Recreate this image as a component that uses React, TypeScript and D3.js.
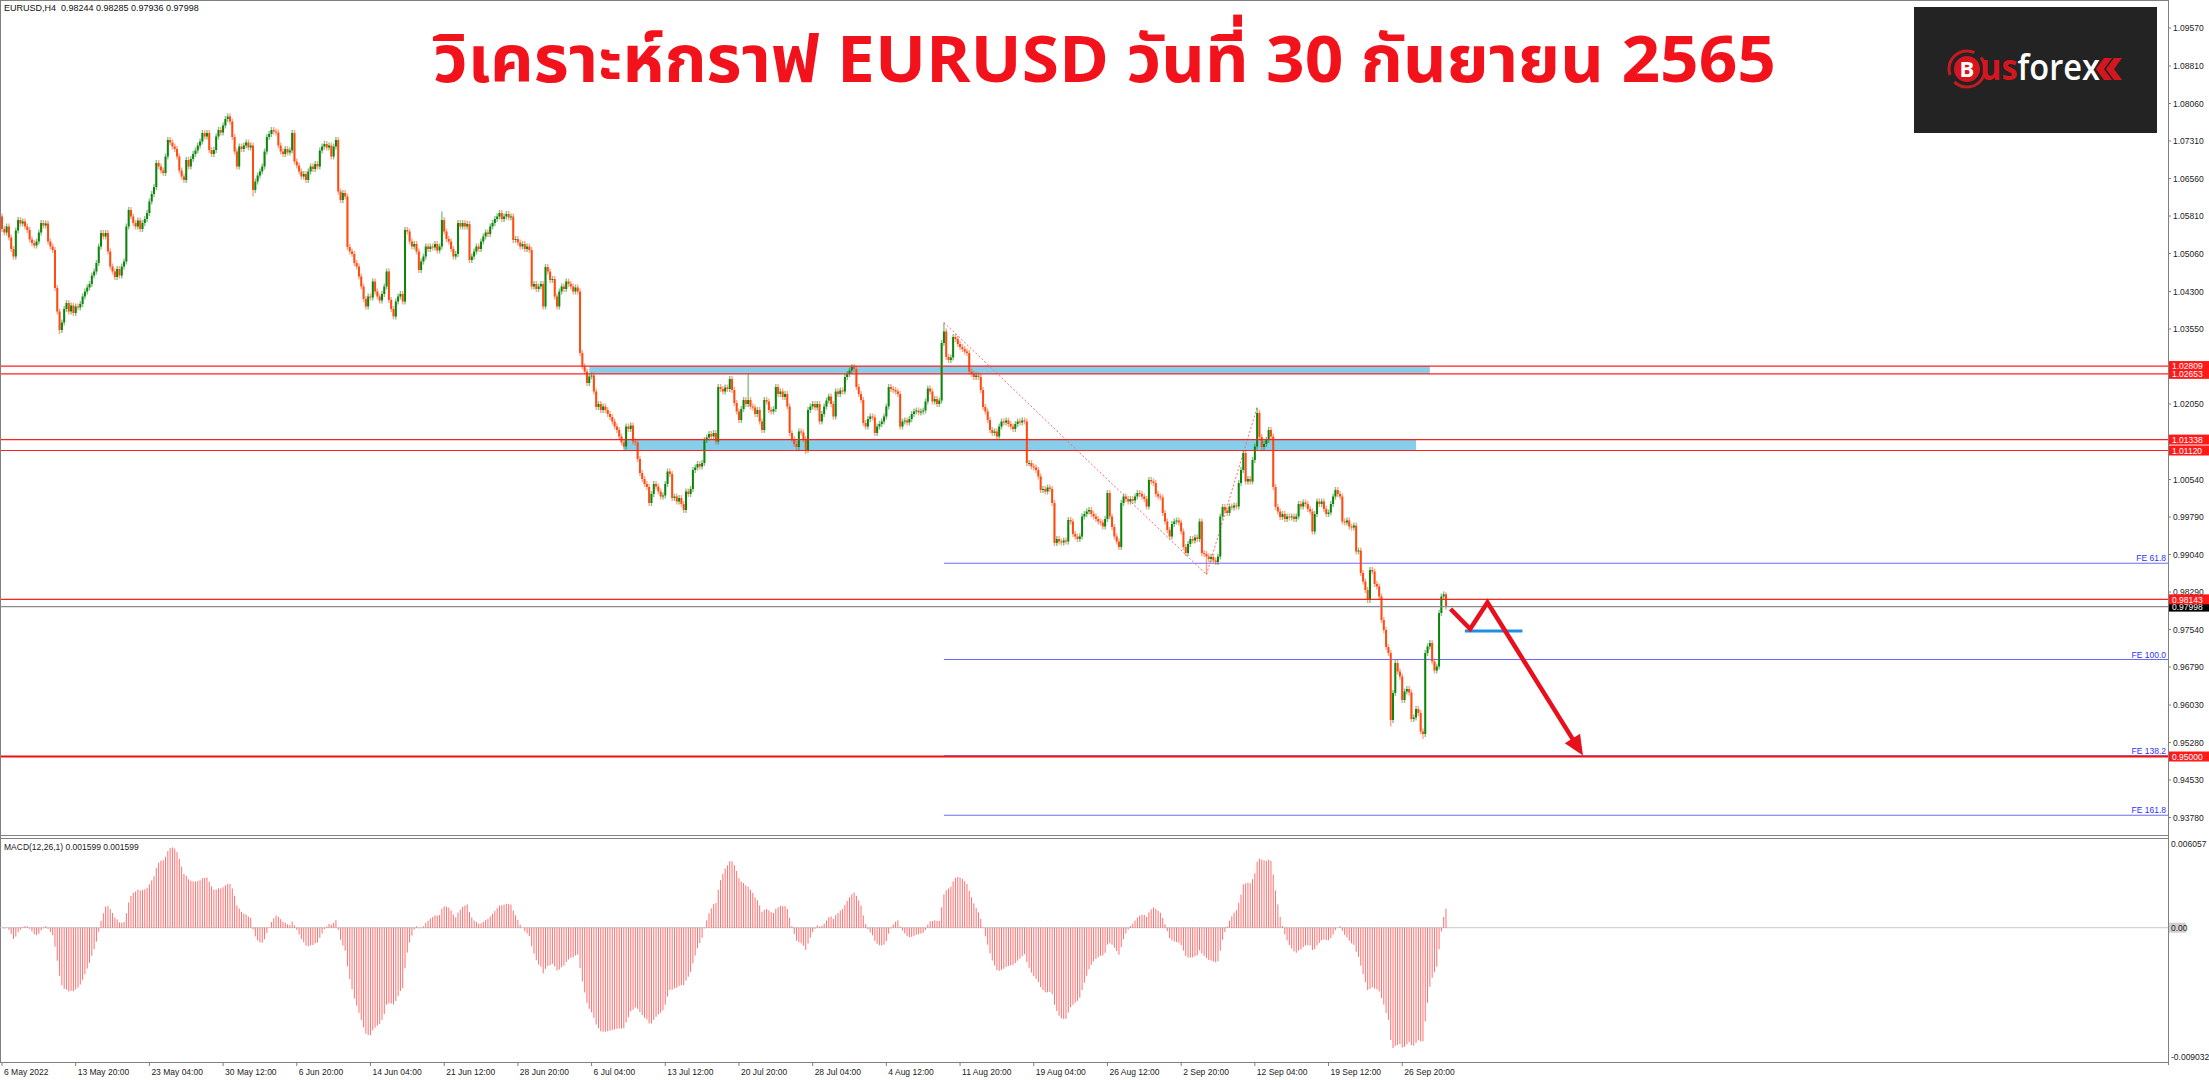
import React from "react";
import * as d3 from "d3";

// ---------- DATA ----------
// H4 closes, in 1/10000 units (10570 = 1.0570), bar 0 = 6 May 2022
const closesPips = [
  10555, 10548, 10560, 10538, 10515, 10500, 10552, 10573, 10566, 10570,
  10560, 10553, 10534, 10527, 10522, 10530, 10548, 10567, 10562, 10566,
  10530, 10520, 10513, 10437, 10390, 10353, 10368, 10395, 10407, 10390,
  10402, 10387, 10400, 10398, 10405, 10420, 10430, 10438, 10445, 10462,
  10470, 10487, 10520, 10547, 10540, 10547, 10510, 10480, 10470, 10459,
  10475, 10462, 10480, 10490, 10560, 10593, 10580, 10567, 10560, 10572,
  10555, 10567, 10575, 10587, 10610, 10625, 10639, 10687, 10680, 10672,
  10667, 10700, 10733, 10728, 10720, 10715, 10700, 10672, 10660, 10653,
  10693, 10680, 10695, 10705, 10712, 10722, 10730, 10747, 10740, 10747,
  10713, 10705, 10713, 10740, 10753, 10748, 10762, 10775, 10780, 10770,
  10739, 10710, 10680, 10720, 10715, 10722, 10728, 10718, 10722, 10633,
  10650, 10662, 10670, 10680, 10710, 10739, 10745, 10753, 10750, 10748,
  10722, 10710, 10705, 10715, 10708, 10712, 10747, 10690, 10682, 10670,
  10660, 10665, 10653, 10670, 10680, 10675, 10685, 10680, 10712, 10720,
  10725, 10718, 10722, 10700, 10720, 10733, 10630, 10613, 10627, 10620,
  10519, 10510, 10505, 10487, 10480, 10460, 10440, 10415, 10400, 10420,
  10418, 10450, 10430, 10420, 10412, 10425, 10440, 10470, 10413, 10395,
  10380, 10410, 10420, 10425, 10410, 10553, 10550, 10530, 10520, 10525,
  10510, 10473, 10490, 10500, 10520, 10515, 10520, 10518, 10525, 10512,
  10520, 10573, 10550, 10535, 10530, 10515, 10500, 10505, 10567, 10560,
  10567, 10560, 10565, 10493, 10500, 10510, 10520, 10515, 10530, 10540,
  10548, 10545, 10560, 10567, 10575, 10580, 10587, 10575, 10580, 10585,
  10578, 10580, 10533, 10535, 10528, 10520, 10525, 10515, 10520, 10513,
  10440, 10445, 10435, 10440, 10445, 10400, 10479, 10470, 10453, 10455,
  10420, 10400, 10430, 10440, 10435, 10450, 10445, 10440, 10430, 10438,
  10430, 10307, 10280, 10270, 10247, 10260, 10262, 10230, 10199, 10205,
  10193, 10200, 10193, 10185, 10179, 10170, 10160, 10153, 10140, 10128,
  10120, 10160, 10155, 10162, 10130, 10128, 10095, 10067, 10055, 10045,
  10039, 10007, 10025, 10045, 10040, 10030, 10020, 10022, 10045, 10070,
  10065, 10017, 10020, 10010, 10017, 10005, 9993, 10030, 10025, 10035,
  10073, 10078, 10085, 10080, 10087, 10133, 10138, 10145, 10140, 10147,
  10130, 10239, 10235, 10230, 10238, 10235, 10255, 10233, 10207, 10190,
  10173, 10195, 10213, 10205, 10213, 10200, 10198, 10185, 10193, 10170,
  10153, 10213, 10210, 10193, 10190, 10195, 10239, 10225, 10230, 10219,
  10225, 10200, 10147, 10135, 10125, 10119, 10150, 10148, 10135, 10113,
  10193, 10200, 10205, 10198, 10205, 10170, 10185, 10200, 10212, 10220,
  10205, 10180, 10230, 10225, 10232, 10230, 10259, 10265, 10272, 10279,
  10275, 10239, 10225, 10213, 10167, 10160, 10175, 10180, 10178, 10147,
  10160, 10165, 10170, 10180, 10200, 10239, 10235, 10233, 10230, 10225,
  10160, 10170, 10172, 10168, 10175, 10185, 10190, 10192, 10188, 10190,
  10192, 10210, 10236, 10230, 10210, 10215, 10205, 10212, 10327, 10350,
  10299, 10293, 10298, 10339, 10335, 10325, 10319, 10315, 10310, 10307,
  10270, 10265, 10259, 10262, 10259, 10233, 10199, 10190, 10173, 10153,
  10147, 10150, 10140, 10160, 10170, 10168, 10172, 10165, 10160, 10155,
  10165, 10170, 10168, 10172, 10170, 10087, 10087, 10080, 10078, 10073,
  10060, 10033, 10035, 10030, 10038, 10035, 10007, 9927, 9935, 9930,
  9928, 9932, 9930, 9973, 9970, 9945, 9940, 9935, 9940, 9980,
  9985, 9990, 9993, 9985, 9980, 9975, 9970, 9968, 9960, 9975,
  10027, 9980, 9959, 9940, 9930, 9919, 10007, 10020, 10015, 10010,
  10015, 10012, 10020, 10027, 10025, 10020, 10015, 10000, 10053, 10050,
  10047, 10025, 10020, 10018, 9987, 9970, 9953, 9940, 9965, 9970,
  9972, 9968, 9950, 9919, 9907, 9925, 9935, 9932, 9938, 9935,
  9970, 9907, 9905, 9900, 9895, 9899, 9892, 9889, 9900, 9980,
  9999, 9992, 9987, 10000, 9998, 10002, 10000, 10047, 10073, 10107,
  10050, 10055, 10050, 10093, 10120, 10187, 10139, 10119, 10125, 10133,
  10153, 10140, 10039, 9999, 9990, 9979, 9985, 9975, 9980, 9978,
  9980, 9975, 9980, 10005, 10000, 10008, 10005, 9995, 9990, 9950,
  9985, 10010, 10005, 10010, 9995, 9985, 9988, 10005, 10020, 10033,
  10025, 10020, 9970, 9968, 9972, 9960, 9958, 9962, 9910, 9912,
  9867, 9850, 9833, 9813, 9873, 9870, 9845, 9840, 9820, 9773,
  9753, 9719, 9707, 9573, 9627, 9687, 9670, 9660, 9613, 9630,
  9635, 9628, 9575, 9578, 9595, 9587, 9550, 9545, 9707, 9720,
  9727, 9690, 9672, 9680, 9787, 9820, 9824.4, 9799.8,
];
const firstOpen = 10580;
// notable wick extremes: [bar, price]
const highSpikes = [[98, 1.0786], [191, 1.059], [324, 1.0265], [409, 1.0368], [545, 1.0198], [627, 0.98285]];
const lowSpikes = [[25, 1.0345], [109, 1.062], [349, 1.0105], [523, 0.9864], [603, 0.956], [617, 0.9535], [627, 0.97936]];

const dateLabels = [
  "6 May 2022", "13 May 20:00", "23 May 04:00", "30 May 12:00", "6 Jun 20:00",
  "14 Jun 04:00", "21 Jun 12:00", "28 Jun 20:00", "6 Jul 04:00", "13 Jul 12:00",
  "20 Jul 20:00", "28 Jul 04:00", "4 Aug 12:00", "11 Aug 20:00", "19 Aug 04:00",
  "26 Aug 12:00", "2 Sep 20:00", "12 Sep 04:00", "19 Sep 12:00", "26 Sep 20:00",
];
const barsPerDateLabel = 32;

const priceTicks = [
  1.0957, 1.0881, 1.0806, 1.0731, 1.0656, 1.0581, 1.0506, 1.043, 1.0355,
  1.0205, 1.0054, 0.9979, 0.9904, 0.9829, 0.9754, 0.9679, 0.9603, 0.9528, 0.9453, 0.9378,
];
const redLevels = [1.02809, 1.02653, 1.01338, 1.0112, 0.98143];
const targetLevel = 0.95;
const bidPrice = 0.97998;
// zones: [upper price, lower price, first bar, last bar]
const zones = [
  [1.02809, 1.02653, 255, 620],
  [1.01338, 1.0112, 270, 614],
];
// Fibonacci expansion anchor points [bar, price]
const fePoints = [[409, 1.0368], [523, 0.9864], [545, 1.0198]];
const feRatios = [61.8, 100.0, 138.2, 161.8];
// drawn forecast path [bar, price]
const arrowPath = [[629, 0.9795], [637.5, 0.9755], [645, 0.9808], [686.5, 0.9502]];
const bluePlan = [[635.2, 0.9751], [660.2, 0.9751]];
const macdTicks = [0.006057, 0, -0.009032];
const headerText = "EURUSD,H4  0.98244 0.98285 0.97936 0.97998";
const macdText = "MACD(12,26,1) 0.001599 0.001599";
const titleText = "วิเคราะห์กราฟ EURUSD วันที่ 30 กันยายน 2565";

// ---------- LAYOUT ----------
const W = 2209;
const H = 1080;
const plotRight = 2168;
const mainBottom = 835;
const macdTop = 838;
const macdBottom = 1062;
const FONT = "'Liberation Sans', Arial, sans-serif";
const AX = 8.5;

const closes = closesPips.map((v) => v / 10000);
const bars = closes.map((c, i) => {
  const o = i === 0 ? firstOpen / 10000 : closes[i - 1];
  let hi = Math.max(o, c) + 0.0006;
  let lo = Math.min(o, c) - 0.0006;
  const hs = highSpikes.find((s) => s[0] === i);
  const ls = lowSpikes.find((s) => s[0] === i);
  if (hs) hi = hs[1];
  if (ls) lo = ls[1];
  return { i, o, c, hi, lo };
});

function ema(arr: number[], n: number) {
  const k = 2 / (n + 1);
  let e = arr[0];
  return arr.map((v, i) => (i === 0 ? e : (e = v * k + e * (1 - k))));
}
const e12 = ema(closes, 12);
const e26 = ema(closes, 26);
const macd = closes.map((_, i) => e12[i] - e26[i]);

export default function App() {
  const x = d3.scaleLinear().domain([0, closes.length - 1]).range([2, 2 + (closes.length - 1) * 2.303]);
  const y = d3.scaleLinear().domain([1.0957, 0.9378]).range([28, 817.5]);
  const ym = d3.scaleLinear().domain([macdTicks[0], macdTicks[2]]).range([macdTop + 1, macdBottom - 2]);

  const [A, B, C] = fePoints;
  const feLevels = feRatios.map((r) => ({ r, p: C[1] - (r / 100) * (A[1] - B[1]) }));
  const fx0 = x(A[0]);

  const lineGen = d3.line<number[]>().x((d) => x(d[0])).y((d) => y(d[1]));
  const ap = arrowPath;
  const last = ap[ap.length - 1];
  const prev = ap[ap.length - 2];
  const ang = Math.atan2(y(last[1]) - y(prev[1]), x(last[0]) - x(prev[0]));
  const tipX = x(last[0]);
  const tipY = y(last[1]);
  const hl = 20, hw = 9;
  const head = [
    [tipX, tipY],
    [tipX - hl * Math.cos(ang) + hw * Math.sin(ang), tipY - hl * Math.sin(ang) - hw * Math.cos(ang)],
    [tipX - hl * Math.cos(ang) - hw * Math.sin(ang), tipY - hl * Math.sin(ang) + hw * Math.cos(ang)],
  ];
  const shaftEnd = [tipX - 12 * Math.cos(ang), tipY - 12 * Math.sin(ang)];

  const axisLabel = (p: number, txt: string, bg: string, fg: string, key: string) => (
    <g key={key}>
      <rect x={plotRight + 1} y={y(p) - 5} width={40} height={10} fill={bg} />
      <text x={plotRight + 4} y={y(p) + 3.2} fontSize={AX} fill={fg} fontFamily={FONT}>{txt}</text>
    </g>
  );

  return (
    <svg width={W} height={H} style={{ position: "absolute", left: 0, top: 0, background: "#fff" }}>
      <rect x={0} y={0} width={W} height={H} fill="#fff" />
      {/* zones */}
      {zones.map((z, k) => (
        <rect key={"z" + k} x={x(z[2])} y={y(z[0])} width={x(z[3]) - x(z[2])} height={y(z[1]) - y(z[0])} fill="#87ceeb" />
      ))}
      {/* FE lines */}
      {feLevels.map((l) => (
        <g key={"fe" + l.r}>
          <line x1={fx0} x2={plotRight} y1={y(l.p)} y2={y(l.p)} stroke="#6a6aff" strokeWidth={1} />
          <text x={plotRight - 2} y={y(l.p) - 2} textAnchor="end" fontSize={8.5} fill="#3030ff" fontFamily={FONT}>
            {"FE " + l.r.toFixed(1)}
          </text>
        </g>
      ))}
      {/* FE dotted trend */}
      <path d={lineGen(fePoints) || ""} fill="none" stroke="#ff6a6a" strokeWidth={1} strokeDasharray="2,2" />
      {/* candles */}
      {bars.map((b) => {
        const bull = b.c >= b.o;
        const col = bull ? "#0b860b" : "#ff4a10";
        const cx = x(b.i);
        const top = y(Math.max(b.o, b.c));
        const bh = Math.max(1, y(Math.min(b.o, b.c)) - top);
        return (
          <g key={"c" + b.i}>
            <line x1={cx} x2={cx} y1={y(b.hi)} y2={y(b.lo)} stroke={col} strokeOpacity={0.5} strokeWidth={1.4} />
            <rect x={cx - 1} y={top} width={2} height={bh} fill={col} />
          </g>
        );
      })}
      {/* horizontal levels */}
      <line x1={0} x2={plotRight} y1={y(bidPrice)} y2={y(bidPrice)} stroke="#8c8c8c" strokeWidth={1.3} />
      {redLevels.map((p, k) => (
        <line key={"r" + k} x1={0} x2={plotRight} y1={y(p)} y2={y(p)} stroke="#ff2020" strokeWidth={1.2} />
      ))}
      <line x1={0} x2={plotRight} y1={y(targetLevel)} y2={y(targetLevel)} stroke="#ee1111" strokeWidth={2} />
      {/* forecast drawing */}
      <line x1={x(bluePlan[0][0])} x2={x(bluePlan[1][0])} y1={y(bluePlan[0][1])} y2={y(bluePlan[1][1])} stroke="#1e8fe6" strokeWidth={3} />
      <path d={(lineGen(ap.slice(0, -1)) || "") + `L${shaftEnd[0]},${shaftEnd[1]}`} fill="none" stroke="#e8101c" strokeWidth={4.5} strokeLinejoin="miter" />
      <polygon points={head.map((p) => p.join(",")).join(" ")} fill="#e8101c" />

      {/* frame */}
      <line x1={0.5} x2={0.5} y1={0} y2={macdBottom} stroke="#808080" />
      <line x1={0} x2={plotRight} y1={0.5} y2={0.5} stroke="#808080" />
      <line x1={plotRight + 0.5} x2={plotRight + 0.5} y1={0} y2={macdBottom + 3} stroke="#808080" />
      <line x1={0} x2={plotRight} y1={mainBottom + 0.5} y2={mainBottom + 0.5} stroke="#808080" />
      <line x1={0} x2={plotRight} y1={macdTop + 0.5} y2={macdTop + 0.5} stroke="#808080" />
      <line x1={0} x2={plotRight} y1={macdBottom + 0.5} y2={macdBottom + 0.5} stroke="#808080" />

      {/* price axis */}
      {priceTicks.map((p) => (
        <g key={"t" + p}>
          <line x1={plotRight} x2={plotRight + 3} y1={y(p)} y2={y(p)} stroke="#808080" />
          <text x={plotRight + 5} y={y(p) + 3.2} fontSize={AX} fill="#222" fontFamily={FONT}>{p.toFixed(5)}</text>
        </g>
      ))}
      {axisLabel(bidPrice, bidPrice.toFixed(5), "#000", "#fff", "bid")}
      {redLevels.map((p, k) => axisLabel(p, p.toFixed(5), "#ff1a1a", "#fff", "rl" + k))}
      {axisLabel(targetLevel, targetLevel.toFixed(5), "#ff1a1a", "#fff", "tl")}

      {/* MACD */}
      <line x1={0} x2={plotRight} y1={ym(0)} y2={ym(0)} stroke="#c8c8c8" />
      {macd.map((v, i) => (
        <line key={"m" + i} x1={x(i)} x2={x(i)} y1={ym(0)} y2={ym(v)} stroke="#ff4040" strokeOpacity={0.75} strokeWidth={1} />
      ))}
      <text x={4} y={macdTop + 12} fontSize={8.5} fill="#222" fontFamily={FONT}>{macdText}</text>
      {macdTicks.map((t, k) => (
        <g key={"mt" + k}>
          {t === 0 && <rect x={plotRight + 1} y={ym(0) - 5} width={17} height={10} fill="#d0d0d0" />}
          <text x={plotRight + 3} y={k === 0 ? ym(t) + 8 : k === 2 ? ym(t) : ym(t) + 3.2} fontSize={AX} fill="#222" fontFamily={FONT}>
            {t === 0 ? "0.00" : t.toFixed(6)}
          </text>
        </g>
      ))}

      {/* date axis */}
      {dateLabels.map((lab, k) => {
        const xx = x(k * barsPerDateLabel);
        return (
          <g key={"d" + k}>
            <line x1={xx} x2={xx} y1={macdBottom} y2={macdBottom + 4} stroke="#808080" />
            <text x={xx + 2} y={macdBottom + 13} fontSize={8.5} fill="#222" fontFamily={FONT}>{lab}</text>
          </g>
        );
      })}

      {/* header */}
      <text x={4} y={11} fontSize={9} fill="#111" fontFamily={FONT} style={{ whiteSpace: "pre" }}>{headerText}</text>

      {/* title */}
      <text x={433} y={82} fontSize={65} fontWeight="bold" fill="#f2121c" textLength={1343} lengthAdjust="spacingAndGlyphs"
        fontFamily="'Noto Sans Thai', 'Noto Sans', 'DejaVu Sans', sans-serif">{titleText}</text>

      {/* logo */}
      <g>
        <rect x={1914} y={7} width={243} height={126} fill="#232323" />
        <circle cx={1967} cy={69} r={18} fill="none" stroke="#c41a22" strokeWidth={3} strokeDasharray="42,8" />
        <circle cx={1967} cy={69} r={13} fill="#d6161f" />
        <text x={1967} y={77} textAnchor="middle" fontSize={22} fontWeight="bold" fill="#fff" fontFamily="'Open Sans', sans-serif">B</text>
        <text x={1980} y={80} fontSize={36} fontFamily="'Open Sans', sans-serif" textLength={120} lengthAdjust="spacingAndGlyphs">
          <tspan fill="#d6161f" fontWeight="bold">us</tspan>
          <tspan fill="#ffffff" fontWeight="600">forex</tspan>
        </text>
        <polygon points="2104,58 2112,58 2104,69 2112,80 2104,80 2096,69" fill="#d6161f" />
        <polygon points="2114,58 2122,58 2114,69 2122,80 2114,80 2106,69" fill="#d6161f" />
      </g>
    </svg>
  );
}
